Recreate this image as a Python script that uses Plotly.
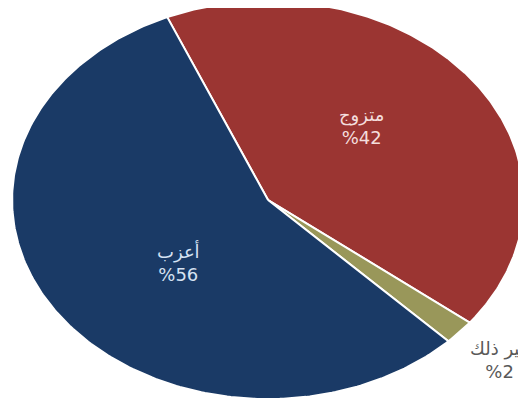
import numpy as np
import plotly.graph_objects as go

# Data
labels = ["متزوج", "غير ذلك", "أعزب"]
values = [42, 2, 56]

# Style
colors = ["#9b3532", "#99975a", "#1a3a66"]
text_colors = ["#f4dedd", "#595959", "#d6e2f2"]
label_radius = [0.52, 1.21, 0.47]
label_turn = [-8, 0, -8]   # degrees
start_angle = -23.2  # degrees clockwise from 12 o'clock

fig = go.Figure()
total = sum(values)
ang = start_angle
for lab, val, col, tc, lr, lt in zip(labels, values, colors, text_colors,
                                     label_radius, label_turn):
    span = 360.0 * val / total
    t = np.radians(np.linspace(ang, ang + span, 240))
    xs = np.concatenate([[0], np.sin(t), [0]])
    ys = np.concatenate([[0], np.cos(t), [0]])
    fig.add_trace(go.Scatter(x=xs, y=ys, mode="lines", fill="toself",
                             fillcolor=col, line=dict(color="white", width=2),
                             hoverinfo="skip", showlegend=False))
    mid = np.radians(ang + span / 2 + lt)
    fig.add_annotation(x=lr * np.sin(mid), y=lr * np.cos(mid),
                       text=f"{lab}<br>%{val}", showarrow=False,
                       font=dict(family="DejaVu Sans", size=18, color=tc),
                       align="center")
    ang += span

fig.update_xaxes(range=[-1.016, 1.039], visible=False, fixedrange=True)
fig.update_yaxes(range=[-1.075, 0.965], visible=False, fixedrange=True)
fig.update_layout(width=526, height=406, margin=dict(l=0, r=0, t=0, b=0),
                  paper_bgcolor="white", plot_bgcolor="white")
fig.write_html("out.html")
